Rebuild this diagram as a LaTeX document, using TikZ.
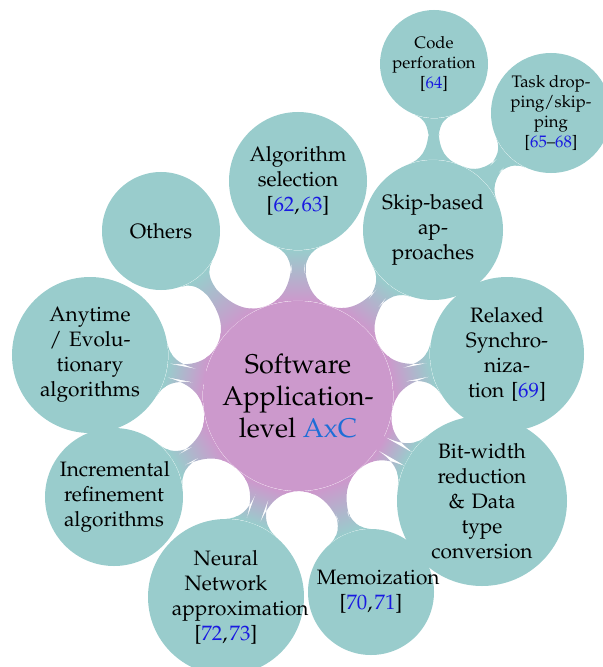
\documentclass[tikz,border=0pt]{standalone}
\usepackage[T1]{fontenc}
\usepackage{mathpazo}
\usetikzlibrary{mindmap}

\definecolor{leaf}{RGB}{153,204,204}
\definecolor{core}{RGB}{204,153,204}
\definecolor{citeblue}{RGB}{25,25,225}
\definecolor{axcblue}{RGB}{30,110,215}
\newcommand{\cnum}[1]{\textcolor{citeblue}{#1}}

\begin{document}
\begin{tikzpicture}[x=0.48pt,y=-0.48pt,
  bubble/.style={circle, fill=leaf, inner sep=0pt, align=center, text=black,
    minimum size=#1*0.96pt},
  topic/.style={bubble=#1, text width=52pt},
  hub/.style={circle, fill=core, inner sep=0pt, align=center, text=black,
    minimum size=#1*0.96pt, font=\fontsize{13}{15.4}\selectfont},
  small/.style={font=\footnotesize},
  neck/.style={decoration={amplitude=2.5pt}}]
\useasboundingbox (0,0) rectangle (602,667);

% central concept
\node[hub=95] (core) at (298,396) {Software\\Application-\\level \textcolor{axcblue}{AxC}};

% first ring
\node[topic=69] (algo)  at (298,181) {Algorithm\\selection\\{[}\cnum{62},\kern1pt\cnum{63}{]}};
\node[topic=59] (oth)   at (161,231) {Others};
\node[topic=78] (any)   at (90,355)  {Anytime\\/ Evolu-\\tionary\\algorithms};
\node[topic=69] (inc)   at (114,497) {Incremental\\refinement\\algorithms};
\node[topic=78] (nn)    at (226,597) {Neural\\Network\\approximation\\{[}\cnum{72},\kern1pt\cnum{73}{]}};
\node[topic=63] (memo)  at (371,592) {Memoization\\{[}\cnum{70},\kern1pt\cnum{71}{]}};
\node[topic=85] (bit)   at (482,501) {Bit-width\\reduction\\\& Data\\type\\conversion};
\node[topic=77] (relax) at (507,354) {Relaxed\\Synchro-\\niza-\\tion {[}\cnum{69}{]}};
\node[topic=70] (skip)  at (433,230) {Skip-based\\ap-\\proaches};

% second ring
\node[bubble=54, small] (code) at (434,64)  {Code\\perforation\\{[}\cnum{64}{]}};
\node[bubble=60, small] (task) at (551,113) {Task drop-\\ping/skip-\\ping\\{[}\cnum{65}--\cnum{68}{]}};

% connection bars
\foreach \c in {algo,oth,any,inc,nn,memo,bit,relax,skip}
  \path (core) to[circle connection bar switch color=from (core) to (leaf), neck] (\c);
\foreach \c in {code,task}
  \path (skip) to[circle connection bar switch color=from (leaf) to (leaf), neck] (\c);
\end{tikzpicture}
\end{document}
